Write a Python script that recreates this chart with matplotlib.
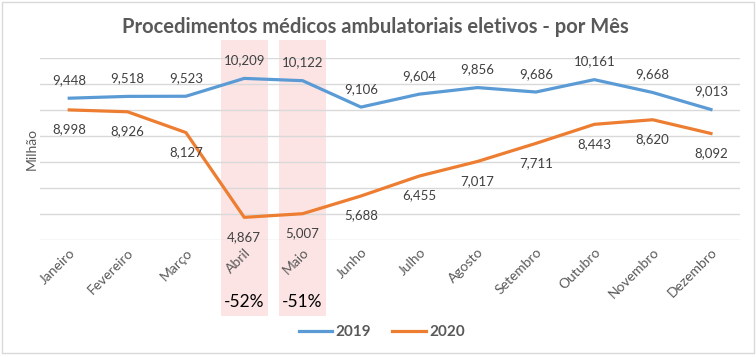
import matplotlib.pyplot as plt
from matplotlib.patches import Rectangle
from matplotlib.lines import Line2D

plt.rcParams['font.family'] = ['Lato', 'DejaVu Sans']

meses = ['Janeiro', 'Fevereiro', 'Março', 'Abril', 'Maio', 'Junho', 'Julho',
         'Agosto', 'Setembro', 'Outubro', 'Novembro', 'Dezembro']
v2019 = [9448, 9518, 9523, 10209, 10122, 9106, 9604, 9856, 9686, 10161, 9668, 9013]
v2020 = [8998, 8926, 8127, 4867, 5007, 5688, 6455, 7017, 7711, 8443, 8620, 8092]
destaque = [3, 4]
quedas = ['-52%', '-51%']

azul = '#5b9bd5'
laranja = '#ed7d31'
cinza = '#595959'

fig = plt.figure(figsize=(7.56, 3.57), dpi=100)
ax = fig.add_axes([0.053, 0.328, 0.926, 0.51])

x = list(range(len(meses)))
ax.set_xlim(-0.5, 11.5)
ax.set_ylim(4000, 11000)
ax.set_yticks(range(4000, 11001, 1000))
ax.yaxis.grid(True, color='#d9d9d9', linewidth=1)
ax.set_axisbelow(True)
ax.tick_params(axis='y', left=False, labelleft=False)
ax.tick_params(axis='x', bottom=False, pad=1)
for s in ax.spines.values():
    s.set_visible(False)

# faixas rosadas em Abril e Maio (saem do eixo)
for i, q in zip(destaque, quedas):
    r = Rectangle((i - 0.4, -0.42), 0.8, 1.52, transform=ax.get_xaxis_transform(),
                  facecolor='#fde4e4', edgecolor='none', clip_on=False, zorder=0)
    ax.add_patch(r)
    ax.text(i, -0.34, q, transform=ax.get_xaxis_transform(), ha='center',
            va='center', fontsize=12.5, color='black')

ax.plot(x, v2019, color=azul, linewidth=2.3, zorder=3)
ax.plot(x, v2020, color=laranja, linewidth=2.3, zorder=3)

for i in x:
    ax.annotate(f'{v2019[i]:,}', (i, v2019[i]), xytext=(0, 13), textcoords='offset points',
                ha='center', va='center', fontsize=9.5, color='#404040')
    ax.annotate(f'{v2020[i]:,}', (i, v2020[i]), xytext=(0, -14), textcoords='offset points',
                ha='center', va='center', fontsize=9.5, color='#404040')

ax.set_xticks(x)
ax.set_xticklabels(meses, rotation=45, ha='right', rotation_mode='anchor',
                   fontsize=10, color=cinza)

ax.set_ylabel('Milhão', color=cinza, fontsize=10, labelpad=2)

fig.text(0.497, 0.925, 'Procedimentos médicos ambulatoriais eletivos - por Mês',
         ha='center', va='center', fontsize=14.5, fontweight='bold', color=cinza)

handles = [Line2D([], [], color=azul, linewidth=2.3),
           Line2D([], [], color=laranja, linewidth=2.3)]
leg = fig.legend(handles, ['2019', '2020'], loc='center', bbox_to_anchor=(0.505, 0.07),
                 ncol=2, frameon=False, handlelength=2.2, handletextpad=0.2,
                 columnspacing=1.4, prop={'size': 11, 'weight': 'bold'})
for t in leg.get_texts():
    t.set_color(cinza)

fig.patches.append(Rectangle((0.003, 0.012), 0.994, 0.982, transform=fig.transFigure,
                             facecolor='none', edgecolor='#d9d9d9', linewidth=1))

fig.savefig('out.png', dpi=100)
